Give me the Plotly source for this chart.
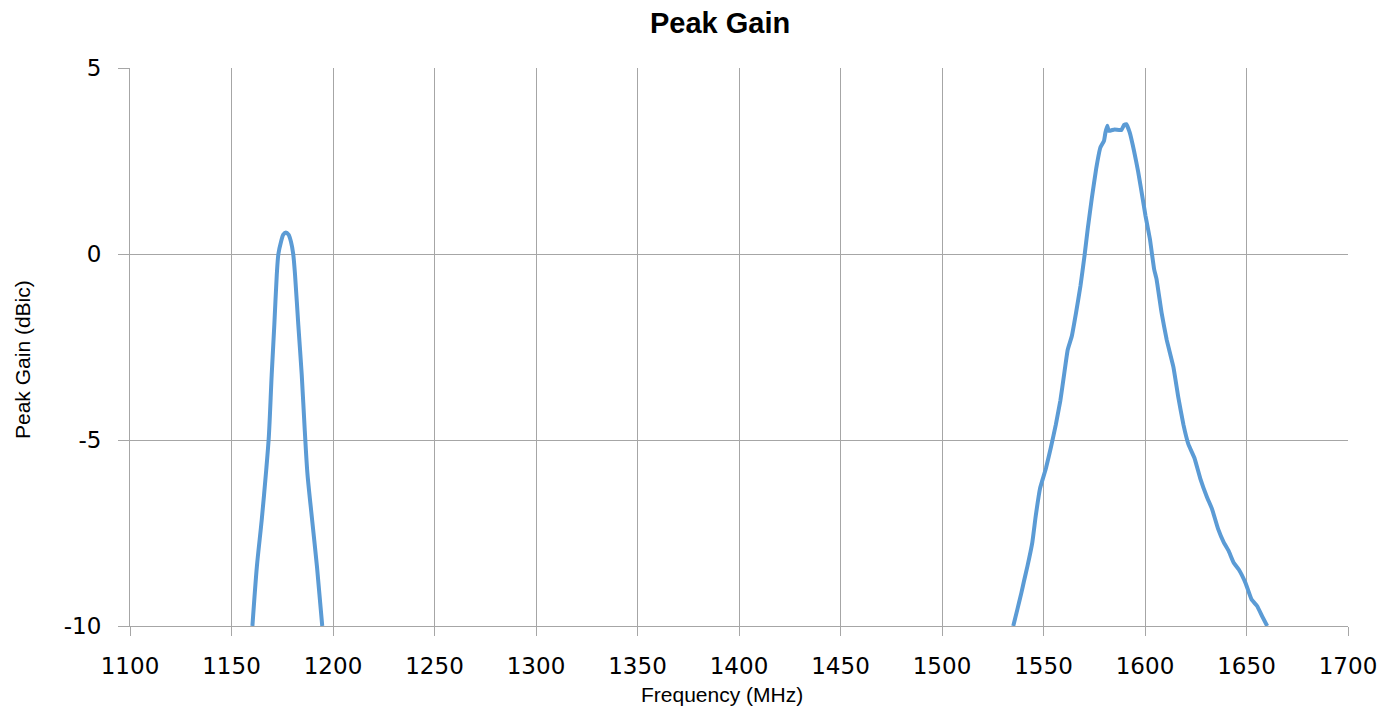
import plotly.graph_objects as go

# Lower band response
freq_band1 = [1160.3, 1162.5, 1164.9, 1167.1, 1168.4, 1169.8, 1171.1, 1172.3, 1173.1,
              1174.4, 1175.5, 1176.8, 1178.1, 1179.3, 1180.4, 1181.3, 1182.9, 1184.6,
              1186.1, 1187.4, 1189.7, 1192.1, 1194.7]
gain_band1 = [-10.0, -8.4, -7.14, -5.81, -4.9, -3.25, -1.9, -0.56, 0.0,
              0.33, 0.52, 0.58, 0.52, 0.33, 0.0, -0.56, -1.9, -3.25,
              -4.75, -5.9, -7.14, -8.4, -10.0]

# Upper band response
freq_band2 = [1535.1, 1537.1, 1539.1, 1540.4, 1542.1, 1544.5, 1546.2, 1548.3, 1551.2,
              1553.6, 1556.1, 1558.3, 1560.2, 1561.9, 1563.9, 1566.0, 1568.2, 1570.2,
              1571.8, 1573.8, 1576.0, 1578.0, 1579.8, 1580.5, 1581.4, 1582.1, 1585.0,
              1588.3, 1589.7, 1590.8, 1592.5, 1594.6, 1596.6, 1599.1, 1600.2, 1602.4,
              1604.5, 1605.7, 1608.2, 1610.7, 1614.0, 1616.4, 1618.9, 1621.4, 1624.4,
              1627.2, 1630.5, 1633.0, 1636.0, 1638.8, 1641.2, 1643.7, 1646.2, 1649.5,
              1652.5, 1655.3, 1657.8, 1660.2]
gain_band2 = [-10.0, -9.56, -9.11, -8.79, -8.39, -7.75, -7.03, -6.30, -5.76,
              -5.21, -4.58, -3.94, -3.22, -2.58, -2.22, -1.59, -0.86, -0.05,
              0.68, 1.50, 2.31, 2.86, 3.04, 3.26, 3.45, 3.31, 3.35,
              3.33, 3.47, 3.49, 3.26, 2.77, 2.22, 1.41, 1.04, 0.41,
              -0.41, -0.68, -1.59, -2.31, -3.04, -3.85, -4.58, -5.12, -5.49,
              -6.03, -6.53, -6.85, -7.39, -7.75, -7.98, -8.30, -8.48, -8.84,
              -9.29, -9.47, -9.75, -10.0]

x_ticks = [1100, 1150, 1200, 1250, 1300, 1350, 1400, 1450, 1500, 1550, 1600, 1650, 1700]
y_ticks = [5, 0, -5, -10]
y_tick_text = ["5", "0", "-5", "-10"]

line_color = "#5b9bd5"
grid_color = "#a6a6a6"

# page offset of 8px (default body margin) compensated in figure size/margins
W, H = 1388, 701
L, R, T, B = 122, 48, 60, 83
PW, PH = W - L - R, H - T - B

def px_x(px):
    return (px - 8 - L) / PW

def px_y(py):
    return 1 - (py - 8 - T) / PH

fig = go.Figure()
fig.add_trace(go.Scatter(
    x=freq_band1, y=gain_band1, mode="lines",
    line=dict(color=line_color, width=4, shape="spline", smoothing=0.8),
    showlegend=False,
))
fig.add_trace(go.Scatter(
    x=freq_band2, y=gain_band2, mode="lines",
    line=dict(color=line_color, width=4, shape="spline", smoothing=0.3),
    showlegend=False,
))

fig.update_layout(
    width=W, height=H,
    margin=dict(l=L, r=R, t=T, b=B),
    paper_bgcolor="white", plot_bgcolor="white",
    font=dict(family="Liberation Sans, Arial, sans-serif", color="black"),
    annotations=[
        dict(text="<b>Peak Gain</b>", xref="paper", yref="paper",
             x=px_x(720), y=px_y(23), xanchor="center", yanchor="middle",
             showarrow=False, font=dict(size=29, family="Liberation Sans, Arial, sans-serif")),
        dict(text="Frequency (MHz)", xref="paper", yref="paper",
             x=px_x(722), y=px_y(695), xanchor="center", yanchor="middle",
             showarrow=False, font=dict(size=21, family="Liberation Sans, Arial, sans-serif")),
        dict(text="Peak Gain (dBic)", xref="paper", yref="paper", textangle=-90,
             x=px_x(22), y=px_y(360), xanchor="center", yanchor="middle",
             showarrow=False, font=dict(size=21, family="Liberation Sans, Arial, sans-serif")),
    ],
)

fig.update_xaxes(
    range=[1100, 1700], tickmode="array", tickvals=x_ticks,
    ticks="outside", ticklen=9, tickcolor=grid_color, tickwidth=1,
    showgrid=True, gridcolor=grid_color, gridwidth=1,
    showline=True, linecolor=grid_color, linewidth=1,
    zeroline=False, ticklabelstandoff=10,
    tickfont=dict(family="DejaVu Sans", size=23, color="black"),
)
fig.update_yaxes(
    range=[-10, 5], tickmode="array", tickvals=y_ticks, ticktext=y_tick_text,
    ticks="outside", ticklen=11, tickcolor=grid_color, tickwidth=1,
    showgrid=True, gridcolor=grid_color, gridwidth=1,
    showline=True, linecolor=grid_color, linewidth=1,
    zeroline=False, ticklabelstandoff=12,
    tickfont=dict(family="DejaVu Sans", size=23, color="black"),
)

fig.write_html("out.html")
